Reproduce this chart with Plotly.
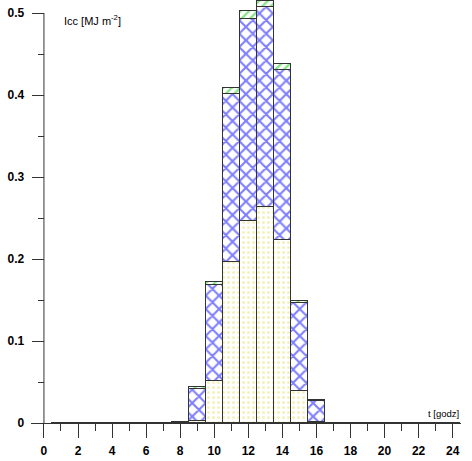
import plotly.graph_objects as go

hours = list(range(1, 25))
# bottom component (pale yellow dotted)
bottom = [0, 0, 0, 0, 0, 0, 0, 0.001, 0.003, 0.051, 0.196, 0.246, 0.264, 0.223, 0.039, 0.001,
          0, 0, 0, 0, 0, 0, 0, 0]
# middle component (blue cross-hatch)
middle = [0, 0, 0, 0, 0, 0, 0, 0, 0.038, 0.117, 0.205, 0.247, 0.243, 0.207, 0.107, 0.026,
          0, 0, 0, 0, 0, 0, 0, 0]
# top component (green diagonal)
top = [0, 0, 0, 0, 0, 0, 0, 0, 0.0025, 0.004, 0.008, 0.0097, 0.008, 0.0075, 0.003, 0.001,
       0, 0, 0, 0, 0, 0, 0, 0]

x_ticks = list(range(0, 25, 2))
y_ticks = [0, 0.1, 0.2, 0.3, 0.4, 0.5]
y_ticklabels = ["0", "0.1", "0.2", "0.3", "0.4", "0.5"]

FONT = "Liberation Sans, Arial, sans-serif"
line = dict(color="#333333", width=1.2)

fig = go.Figure()
fig.add_trace(go.Bar(
    x=hours, y=bottom, width=1,
    marker=dict(color="white", line=line,
                pattern=dict(shape=".", fgcolor="#e8e480", bgcolor="white", size=5, solidity=0.3)),
))
fig.add_trace(go.Bar(
    x=hours, y=middle, width=1,
    marker=dict(color="white", line=line,
                pattern=dict(shape="x", fgcolor="#0000ff", bgcolor="white", size=9.5, solidity=0.4)),
))
fig.add_trace(go.Bar(
    x=hours, y=top, width=1,
    marker=dict(color="white", line=line,
                pattern=dict(shape="/", fgcolor="#11cc11", bgcolor="white", size=6, solidity=0.4)),
))

# plot area: x from px 31 to 461, y: value 0 at px 423, 0.5 at px 13
y_top = 0.5 + 13 / 820

fig.update_layout(
    width=472, height=461,
    margin=dict(l=31, r=11, t=0, b=38, autoexpand=False),
    barmode="stack", bargap=0,
    showlegend=False,
    plot_bgcolor="white", paper_bgcolor="white",
    font=dict(family=FONT, size=11, color="black"),
    xaxis=dict(
        range=[-0.76, 24.49], tickvals=x_ticks, ticktext=[str(v) for v in x_ticks],
        automargin=False,
        showgrid=False, zeroline=False, showline=True, linecolor="#333", linewidth=1,
        ticks="outside", ticklen=14, tickcolor="#333", tickwidth=1,
        ticklabelstandoff=3,
        tickfont=dict(family=FONT, size=12, color="black", weight="bold"),
        minor=dict(dtick=1, tick0=0, ticks="outside", ticklen=7, tickcolor="#333", showgrid=False),
    ),
    yaxis=dict(
        range=[0, y_top], tickvals=y_ticks, ticktext=y_ticklabels,
        anchor="free", position=(43.7 - 31) / 430, automargin=False,
        showgrid=False, zeroline=False, showline=False,
        ticks="outside", ticklen=12, tickcolor="#333", tickwidth=1,
        ticklabelstandoff=5,
        tickfont=dict(family=FONT, size=12, color="black", weight="bold"),
        minor=dict(dtick=0.05, tick0=0, ticks="outside", ticklen=6, tickcolor="#333", showgrid=False),
    ),
    shapes=[
        dict(type="line", xref="x", yref="y", x0=0, x1=0, y0=0, y1=0.5,
             line=dict(color="#333", width=1)),
    ],
    annotations=[
        dict(text="Icc [MJ m<sup>-2</sup>]", xref="paper", yref="paper",
             x=(62 - 31) / 430, y=(423 - 20) / 423, xanchor="left", yanchor="middle",
             showarrow=False, font=dict(family=FONT, size=11)),
        dict(text="t [godz]", xref="paper", yref="paper",
             x=1.0, y=(423 - 413) / 423, xanchor="right", yanchor="middle",
             showarrow=False, font=dict(family=FONT, size=9.5)),
    ],
)

fig.write_html("out.html", config={"displayModeBar": False},
               post_script="document.body.style.margin='0';document.body.style.overflow='hidden';")
